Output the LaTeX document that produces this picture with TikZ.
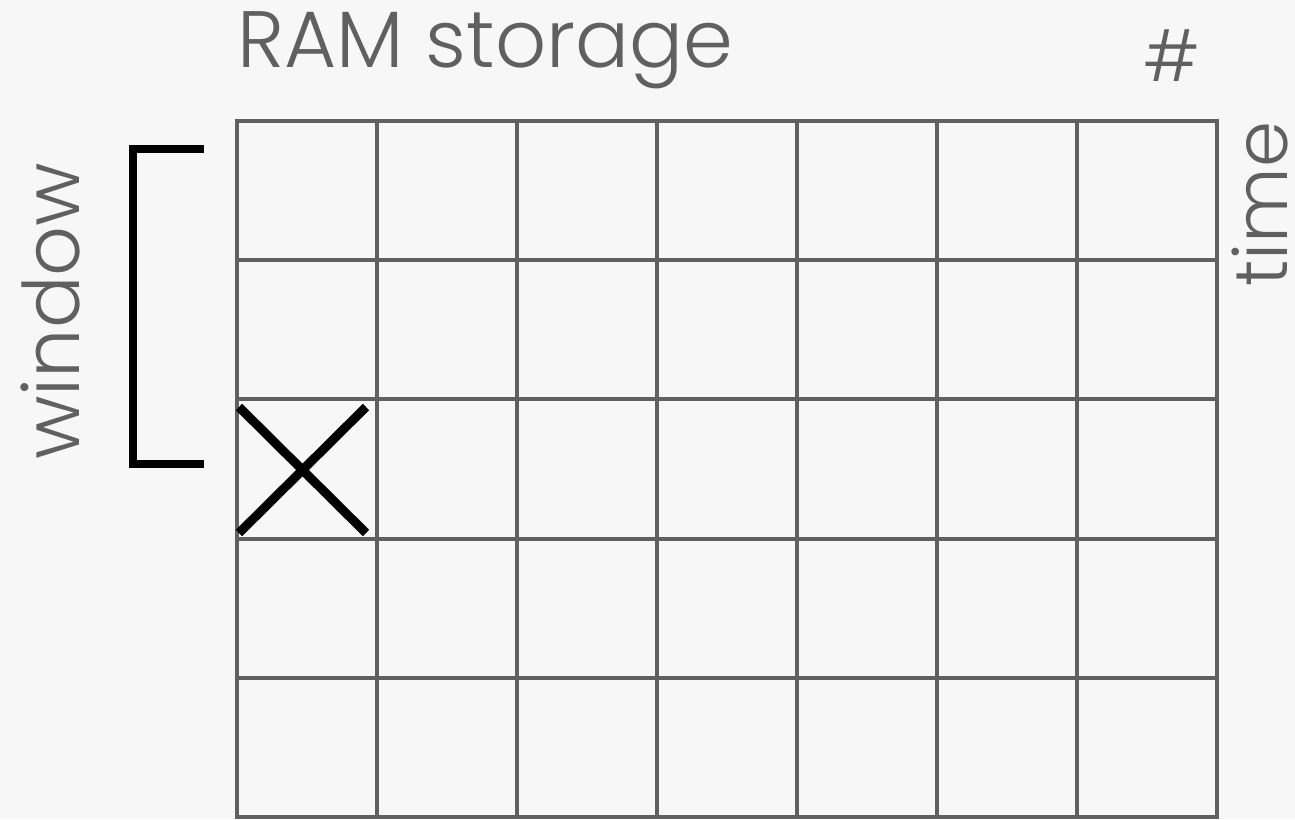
\documentclass[tikz,border=0pt]{standalone}
\usepackage{fontspec}
\setmainfont{Poppins}[UprightFont=* Light]
\definecolor{bg}{HTML}{F7F7F7}
\definecolor{ink}{HTML}{606060}
\begin{document}
\begin{tikzpicture}[x=0.5pt,y=-0.5pt,
  gridline/.style={draw=ink,line width=2pt},
  blackstroke/.style={draw=black,line width=4.5pt},
  label/.style={text=ink,inner sep=0pt,font=\fontsize{40}{44}\selectfont}]
\fill[bg] (0,0) rectangle (1295,819);
\useasboundingbox (0,0) rectangle (1295,819);
% grid
\foreach \c in {0,...,7} \draw[gridline] (237+140*\c,121) -- (237+140*\c,817);
\foreach \r in {0,...,5} \draw[gridline,line cap=rect] (237,121+139.2*\r) -- (1217,121+139.2*\r);
% texts
\node[label,anchor=base west] (title) at (237,67) {RAM storage};
\node[label,anchor=center,font=\fontsize{35}{40}\selectfont] (hash) at (1172,56) {\#};
\node[label,anchor=base west,rotate=90,font=\fontsize{37}{40}\selectfont] (time) at (1287,287) {time};
\node[label,anchor=base west,rotate=90,font=\fontsize{39}{42}\selectfont] (window) at (79,460) {window};
% bracket
\coordinate (bt) at (204,149);
\coordinate (bb) at (204,464);
\draw[blackstroke,line width=4pt] (bt) -- (133,149) -- (133,464) -- (bb);
% cross
\coordinate (x1) at (239,407);
\coordinate (x2) at (366,533);
\coordinate (x3) at (239,533);
\coordinate (x4) at (366,407);
\draw[blackstroke] (x1) -- (x2);
\draw[blackstroke] (x3) -- (x4);
\end{tikzpicture}
\end{document}
